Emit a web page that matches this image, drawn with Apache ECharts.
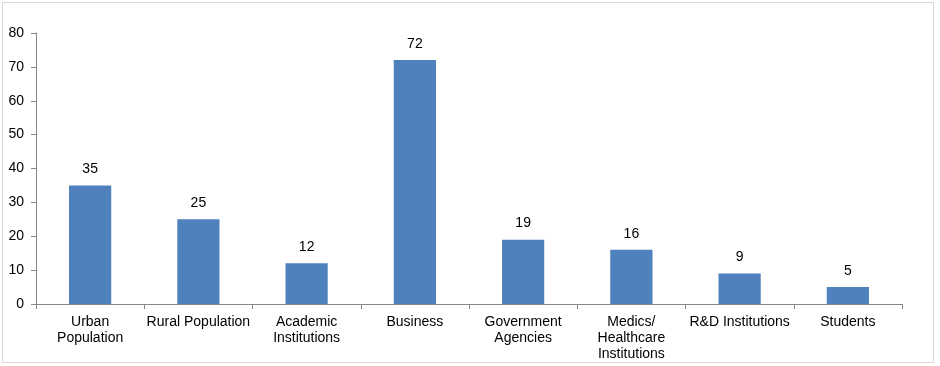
<!DOCTYPE html>
<html><head><meta charset="utf-8">
<script src="https://cdn.jsdelivr.net/npm/echarts@6/dist/echarts.min.js"></script>
<style>
html,body{margin:0;padding:0;background:#fff;}
#frame{position:absolute;left:2px;top:2px;width:932px;height:361px;border:1px solid #d9d9d9;box-sizing:border-box;}
#chart{position:absolute;left:0;top:0;width:940px;height:366px;}
</style></head>
<body>
<div id="frame"></div>
<div id="chart"></div>
<script>
const categories = ["Urban\nPopulation", "Rural Population", "Academic\nInstitutions", "Business", "Government\nAgencies", "Medics/\nHealthcare\nInstitutions", "R&D Institutions", "Students"];
const values = [35, 25, 12, 72, 19, 16, 9, 5];
const yMin = 0, yMax = 80, yStep = 10;

const chart = echarts.init(document.getElementById('chart'), null, {renderer: 'canvas'});
const fontFamily = '"Liberation Sans", Arial, sans-serif';
chart.setOption({
  animation: false,
  grid: {left: 36, right: 38, top: 33, bottom: 62, containLabel: false},
  xAxis: {
    type: 'category',
    data: categories,
    axisLine: {lineStyle: {color: '#868686', width: 1}},
    axisTick: {show: true, alignWithLabel: false, length: 5, lineStyle: {color: '#868686'}},
    axisLabel: {color: '#000', fontFamily, fontSize: 14, lineHeight: 16, margin: 10, interval: 0}
  },
  yAxis: {
    type: 'value', min: yMin, max: yMax, interval: yStep,
    splitLine: {show: false},
    axisLine: {show: true, lineStyle: {color: '#868686', width: 1}},
    axisTick: {show: true, length: 5, lineStyle: {color: '#868686'}},
    axisLabel: {color: '#000', fontFamily, fontSize: 14, margin: 12}
  },
  series: [{
    type: 'bar',
    data: values,
    barWidth: '39%',
    itemStyle: {color: '#4F81BD'},
    label: {show: true, position: 'top', distance: 9, color: '#000', fontFamily, fontSize: 14}
  }]
});
</script>
</body></html>
